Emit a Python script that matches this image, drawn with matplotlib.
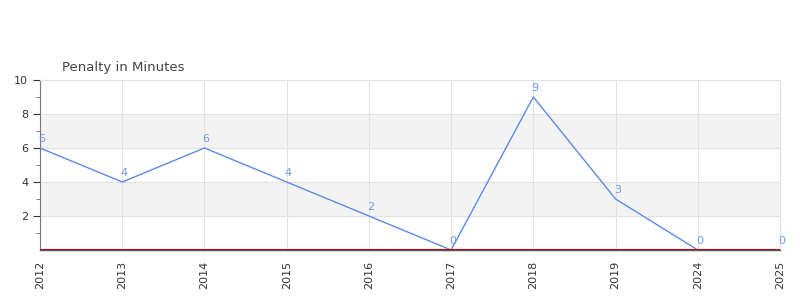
import matplotlib
matplotlib.use("Agg")
import matplotlib.pyplot as plt
import numpy as np

years = ["2012", "2013", "2014", "2015", "2016", "2017", "2018", "2019", "2024", "2025"]
penalty = [6, 4, 6, 4, 2, 0, 9, 3, 0, 0]

LINE = "#5b8be8"
GRID = "#e2e2e2"

fig = plt.figure(figsize=(8, 3), dpi=100)
ax = fig.add_axes([0.05, 0.1667, 0.925, 0.5667])

x = np.arange(len(years))
ax.set_xlim(0, len(years) - 1)
ax.set_ylim(0, 10)

# alternating bands
for lo in (2, 6):
    ax.axhspan(lo, lo + 2, color="#f3f3f3", zorder=0)

ax.set_yticks([2, 4, 6, 8, 10])
ax.set_yticks(np.arange(1, 10, 2), minor=True)
ax.grid(True, axis="both", color=GRID, lw=0.8, zorder=1)
ax.set_axisbelow(True)

ax.plot(x, penalty, color=LINE, lw=1.0, zorder=3)
for xi, v in zip(x, penalty):
    ax.text(xi + 0.02, v + 0.25, str(v), color=LINE, fontsize=8, ha="center",
            va="bottom", alpha=0.85, zorder=4)

ax.axhline(0.05, color="#cc0000", lw=0.7, zorder=4)

ax.set_xticks(x)
ax.set_xticklabels(years, rotation=90, fontsize=8, color="#333333")
ax.tick_params(axis="y", labelsize=8, colors="#333333", length=5, width=0.8)
ax.tick_params(axis="y", which="minor", length=3, color="#666666")
ax.tick_params(axis="x", length=0, pad=8)

for s in ("top", "right"):
    ax.spines[s].set_color(GRID)
ax.spines["left"].set_color("#777777")
ax.spines["bottom"].set_color("#555555")
ax.spines["bottom"].set_linewidth(1.0)

fig.text(62 / 800, 1 - 67 / 300, "Penalty in Minutes", fontsize=9.5, color="#444444", va="center")

fig.savefig("out.png")
